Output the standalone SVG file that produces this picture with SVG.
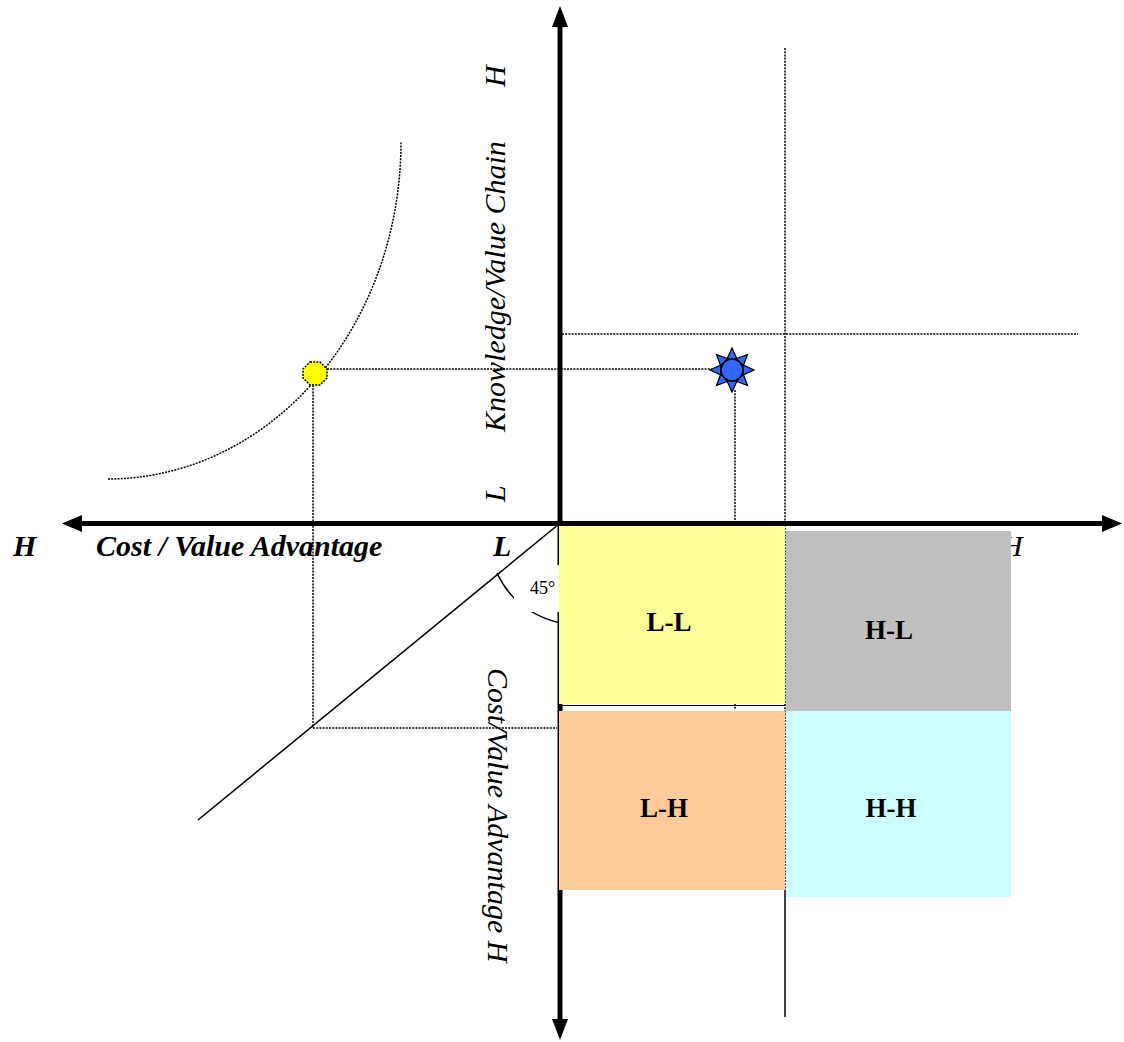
<svg xmlns="http://www.w3.org/2000/svg" xmlns:xlink="http://www.w3.org/1999/xlink" width="1124" height="1042" viewBox="0 0 1124 1042">
<style>
.dot{fill:none;stroke:#000;stroke-width:1.5;stroke-dasharray:2 1.2}
.thin{fill:none;stroke:#000;stroke-width:1.5}
.axis{fill:none;stroke:#000;stroke-width:5}
.t{font-family:"Liberation Serif","Times New Roman",serif;font-size:30px;fill:#000}
.it{font-style:italic}
.b{font-weight:bold}
.lbl{font-family:"Liberation Serif","Times New Roman",serif;font-size:27px;font-weight:bold;fill:#000;text-anchor:middle}
</style>
<defs>
<polygon id="ray" points="-5,-11 5,-11 0,-22" fill="#3366FF" stroke="#000" stroke-width="1.2"/>
</defs>
<rect width="1124" height="1042" fill="#fff"/>
<g id="guides">
<path class="dot" d="M108,479 A293,337 0 0 0 401,142"/>
<line class="dot" x1="327" y1="369" x2="712" y2="369"/>
<line class="dot" x1="313" y1="385" x2="313" y2="728"/>
<line class="dot" x1="313" y1="728" x2="557" y2="728"/>
<line class="dot" x1="735" y1="390" x2="735" y2="710"/>
<line class="dot" x1="562" y1="334" x2="1078" y2="334"/>
<line class="dot" x1="785" y1="48" x2="785" y2="890"/>
<line class="thin" x1="785" y1="890" x2="785" y2="1017" stroke-width="1.2"/>
<line class="thin" x1="559" y1="524" x2="198" y2="820"/>
<path class="thin" d="M497,573 Q515,612 560,623"/>
</g>
<g id="axes">
<line class="axis" x1="80" y1="523.5" x2="1104" y2="523.5"/>
<polygon points="62,523.5 82,515 82,532"/>
<polygon points="1122,523.5 1102,515 1102,532"/>
<line class="axis" x1="560" y1="26" x2="560" y2="1022"/>
<polygon points="560,6 552,27 568,27"/>
<polygon points="560,1040 552,1019 568,1019"/>
</g>
<rect x="514" y="565" width="45" height="47" fill="#fff"/>
<text class="t" x="530" y="594" style="font-size:18px">45°</text>
<g id="axis-labels">
<text class="t it b" x="13" y="556">H</text>
<text class="t it b" x="96" y="556">Cost / Value Advantage</text>
<text class="t it b" x="493" y="556">L</text>
<text class="t it" x="1001" y="556">H</text>
<text class="t it" transform="translate(505,87) rotate(-90)">H</text>
<text class="t it" transform="translate(505,432) rotate(-90)">Knowledge/Value Chain</text>
<text class="t it" transform="translate(505,502) rotate(-90)">L</text>
<text class="t it" transform="translate(488,668) rotate(90)">Cost/Value Advantage H</text>
</g>
<line x1="559" y1="705.5" x2="785" y2="705.5" stroke="#000" stroke-width="1"/>
<g id="LL"><rect x="559" y="526" width="226" height="178" fill="#FFFF99"/><text class="lbl" x="669" y="631">L-L</text></g>
<g id="HL"><rect x="786" y="531" width="225" height="180" fill="#C0C0C0"/><text class="lbl" x="889" y="639">H-L</text></g>
<g id="LH"><rect x="559" y="711" width="226" height="179" fill="#FFCC99"/><text class="lbl" x="664" y="817">L-H</text></g>
<g id="HH"><rect x="786" y="711" width="225" height="186" fill="#CCFFFF"/><text class="lbl" x="891" y="817">H-H</text></g>
<g id="octagon">
<polygon points="310,362 320,362 327,369 327,378 320,385 310,385 303,378 303,369" fill="#FFFF00" stroke="#000" stroke-width="1.5" stroke-dasharray="2 1.2"/>
</g>
<g id="sun" transform="translate(732,370)">
<use xlink:href="#ray"/>
<use xlink:href="#ray" transform="rotate(45)"/>
<use xlink:href="#ray" transform="rotate(90)"/>
<use xlink:href="#ray" transform="rotate(135)"/>
<use xlink:href="#ray" transform="rotate(180)"/>
<use xlink:href="#ray" transform="rotate(225)"/>
<use xlink:href="#ray" transform="rotate(270)"/>
<use xlink:href="#ray" transform="rotate(315)"/>
<circle r="11" fill="#3366FF" stroke="#000" stroke-width="1.5"/>
</g>
</svg>
